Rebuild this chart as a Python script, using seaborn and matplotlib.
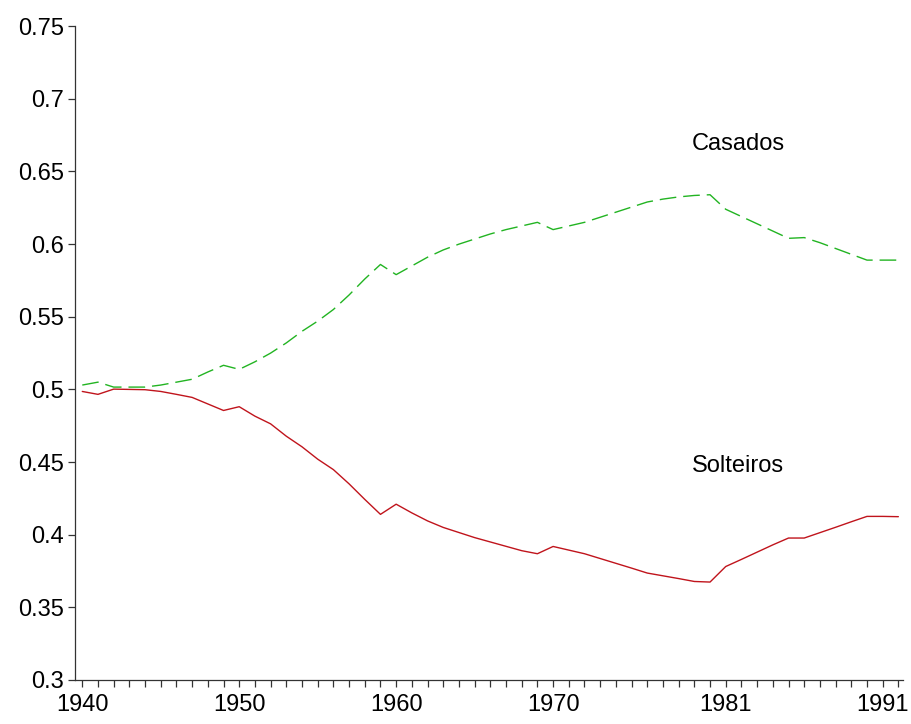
import pandas as pd
import seaborn as sns
import matplotlib.pyplot as plt

# Proporção de casados e solteiros, 1940-1992
anos = list(range(1940, 1993))

casados = [0.503, 0.505, 0.5016, 0.5016, 0.5016, 0.503, 0.505, 0.507, 0.512, 0.5166,
           0.5138, 0.519, 0.525, 0.532, 0.540, 0.547, 0.555, 0.565, 0.576, 0.586,
           0.579, 0.585, 0.591, 0.596, 0.600, 0.6035, 0.607, 0.610, 0.6125, 0.615,
           0.610, 0.6125, 0.615, 0.6185, 0.622, 0.6255, 0.629, 0.631, 0.6325, 0.6335,
           0.634, 0.624, 0.619, 0.614, 0.609, 0.604, 0.6045, 0.601, 0.597, 0.593,
           0.589, 0.589, 0.589]

solteiros = [0.4986, 0.4966, 0.5002, 0.5, 0.4998, 0.4986, 0.4966, 0.4945, 0.490, 0.4855,
             0.4881, 0.4816, 0.4763, 0.4678, 0.4605, 0.452, 0.4448, 0.435, 0.4243, 0.414,
             0.421, 0.415, 0.4095, 0.405, 0.4015, 0.398, 0.395, 0.392, 0.389, 0.3869,
             0.3919, 0.3894, 0.3869, 0.3836, 0.3803, 0.377, 0.3736, 0.3717, 0.3698, 0.3678,
             0.3674, 0.3781, 0.383, 0.388, 0.393, 0.3977, 0.3977, 0.4014, 0.4051, 0.4089,
             0.4126, 0.4126, 0.4124]

anos_rotulo = [1940, 1950, 1960, 1970, 1981, 1991]
y_ticks = [0.3, 0.35, 0.4, 0.45, 0.5, 0.55, 0.6, 0.65, 0.7, 0.75]

df = pd.DataFrame({'ano': anos, 'Casados': casados, 'Solteiros': solteiros})

sns.set_style('ticks')
plt.rcParams['font.family'] = ['Liberation Sans', 'DejaVu Sans']

fig = plt.figure(figsize=(9.11, 7.24), dpi=100)
ax = fig.add_axes([0.0823, 0.0608, 0.909, 0.903])

sns.lineplot(x='ano', y='Casados', data=df, ax=ax, color='#22b422',
             linewidth=1.0, dashes=False)
ax.lines[-1].set_dashes((12, 5))
sns.lineplot(x='ano', y='Solteiros', data=df, ax=ax, color='#c0141c', linewidth=1.0)

ax.text(1978.84, 0.6688, 'Casados', fontsize=17, ha='left', va='center', color='black')
ax.text(1978.84, 0.4474, 'Solteiros', fontsize=17, ha='left', va='center', color='black')

ax.set_xlim(1939.535, 1992.3)
ax.set_ylim(0.3, 0.75)
ax.set_xticks(anos, minor=True)
ax.set_xticks(anos_rotulo)
ax.set_xticklabels([str(a) for a in anos_rotulo])
ax.set_yticks(y_ticks)
ax.set_yticklabels([f'{v:g}' for v in y_ticks])
ax.set_xlabel('')
ax.set_ylabel('')

ax.tick_params(axis='both', which='both', direction='out', length=5, width=0.9,
               color='#333333', labelcolor='black', labelsize=17, pad=3)
ax.tick_params(axis='x', which='major', pad=5)
for s in ['left', 'bottom']:
    ax.spines[s].set_linewidth(0.9)
    ax.spines[s].set_color('#333333')
sns.despine(ax=ax)

plt.savefig('out.png', dpi=100)
plt.close()
